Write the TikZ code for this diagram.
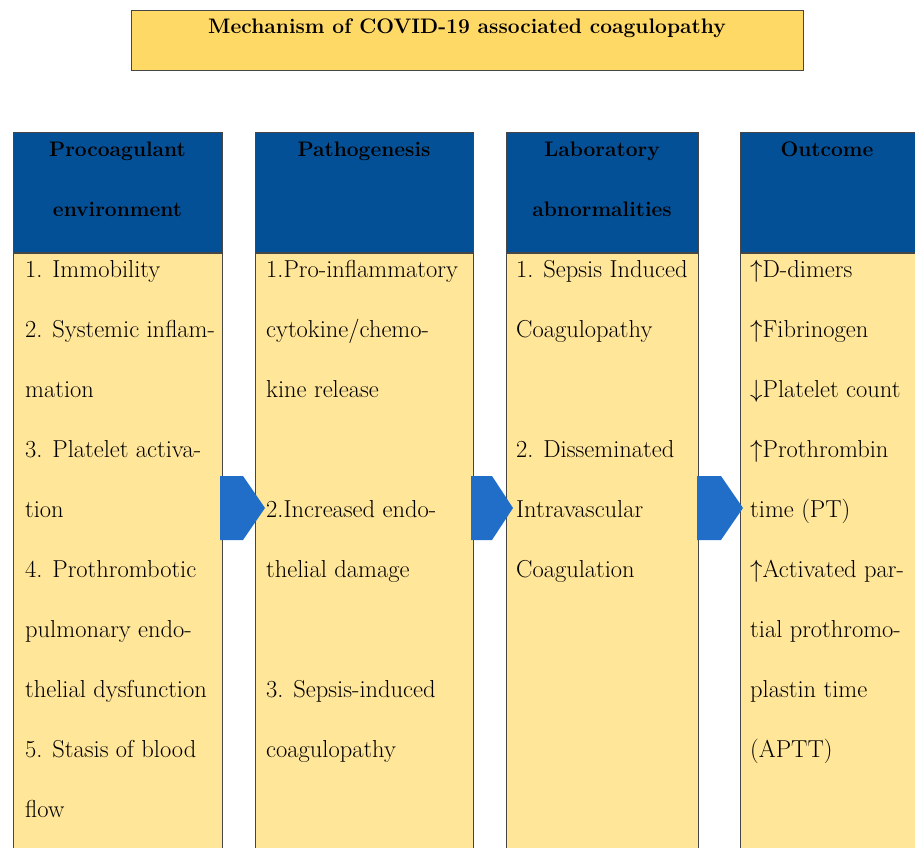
\documentclass[tikz,border=0pt]{standalone}
\definecolor{hdrblue}{RGB}{4,80,150}
\definecolor{bodyyel}{RGB}{255,230,153}
\definecolor{titleyel}{RGB}{255,217,102}
\definecolor{arrblue}{RGB}{32,110,200}
\definecolor{edgegray}{RGB}{70,70,70}
\tikzset{
  titlebox/.style={draw=edgegray, fill=titleyel, line width=0.8pt, inner sep=0pt, anchor=north west},
  hdrbox/.style={draw=edgegray, fill=hdrblue, line width=0.8pt, inner sep=0pt, anchor=north west, minimum height=120pt},
  bodybox/.style={draw=edgegray, fill=bodyyel, line width=0.8pt, inner sep=0pt, anchor=north west, minimum height=596pt},
  hdrtext/.style={font=\fontsize{21}{25}\selectfont\bfseries, anchor=base},
  bodytext/.style={font=\fontsize{24.5}{28}\selectfont, anchor=base west, inner sep=0pt}
}
\begin{document}
\begin{tikzpicture}[x=1pt,y=-1pt]
   \useasboundingbox (0,0) rectangle (915,848);

   % Title
   \node[titlebox, minimum width=672pt, minimum height=60pt] (title) at (131,10) {};
   \node[hdrtext] (titletext) at (467,34) {Mechanism of COVID-19 associated coagulopathy};

   % Columns
   \node[hdrbox, minimum width=209pt] (h1) at (13,132) {};
   \node[bodybox, minimum width=209pt] (b1) at (h1.south west) {};
   \node[hdrbox, minimum width=218pt] (h2) at (255,132) {};
   \node[bodybox, minimum width=218pt] (b2) at (h2.south west) {};
   \node[hdrbox, minimum width=192pt] (h3) at (506,132) {};
   \node[bodybox, minimum width=192pt] (b3) at (h3.south west) {};
   \node[hdrbox, minimum width=176pt] (h4) at (740,132) {};
   \node[bodybox, minimum width=176pt] (b4) at (h4.south west) {};

   % Headers
   \node[hdrtext] (h1a) at (117.5,156) {Procoagulant};
   \node[hdrtext] (h1b) at (117.5,216) {environment};
   \node[hdrtext] (h2a) at (364,156) {Pathogenesis};
   \node[hdrtext] (h3a) at (602,156) {Laboratory};
   \node[hdrtext] (h3b) at (602,216) {abnormalities};
   \node[hdrtext] (h4a) at (827,156) {Outcome};

   % Block arrows
   \foreach \x/\c/\t in {220/243/265, 471/492/513, 697/721/743}
     \fill[arrblue] (\x,476) -- (\c,476) -- (\t,508) -- (\c,540) -- (\x,540) -- cycle;

   % Column texts
   \foreach \s [count=\i] in {1. Immobility, 2. Systemic inflam-, mation,
       3. Platelet activa-, tion, 4. Prothrombotic, pulmonary endo-,
       thelial dysfunction, 5. Stasis of blood, flow}
     \node[bodytext] (t1-\i) at (25,{277+60*(\i-1)}) {\s};
   \foreach \s [count=\i] in {1.Pro-inflammatory, cytokine/chemo-, kine release, {},
       2.Increased endo-, thelial damage, {}, 3. Sepsis-induced, coagulopathy}
     \node[bodytext] (t2-\i) at (266,{277+60*(\i-1)}) {\s};
   \foreach \s [count=\i] in {1. Sepsis Induced, Coagulopathy, {},
       2. Disseminated, Intravascular, Coagulation}
     \node[bodytext] (t3-\i) at (516,{277+60*(\i-1)}) {\s};
   \foreach \s [count=\i] in {$\uparrow$D-dimers, $\uparrow$Fibrinogen,
       $\downarrow$Platelet count, $\uparrow$Prothrombin, time (PT),
       $\uparrow$Activated par-, tial prothromo-, plastin time, (APTT)}
     \node[bodytext] (t4-\i) at (750,{277+60*(\i-1)}) {\s};
\end{tikzpicture}
\end{document}
